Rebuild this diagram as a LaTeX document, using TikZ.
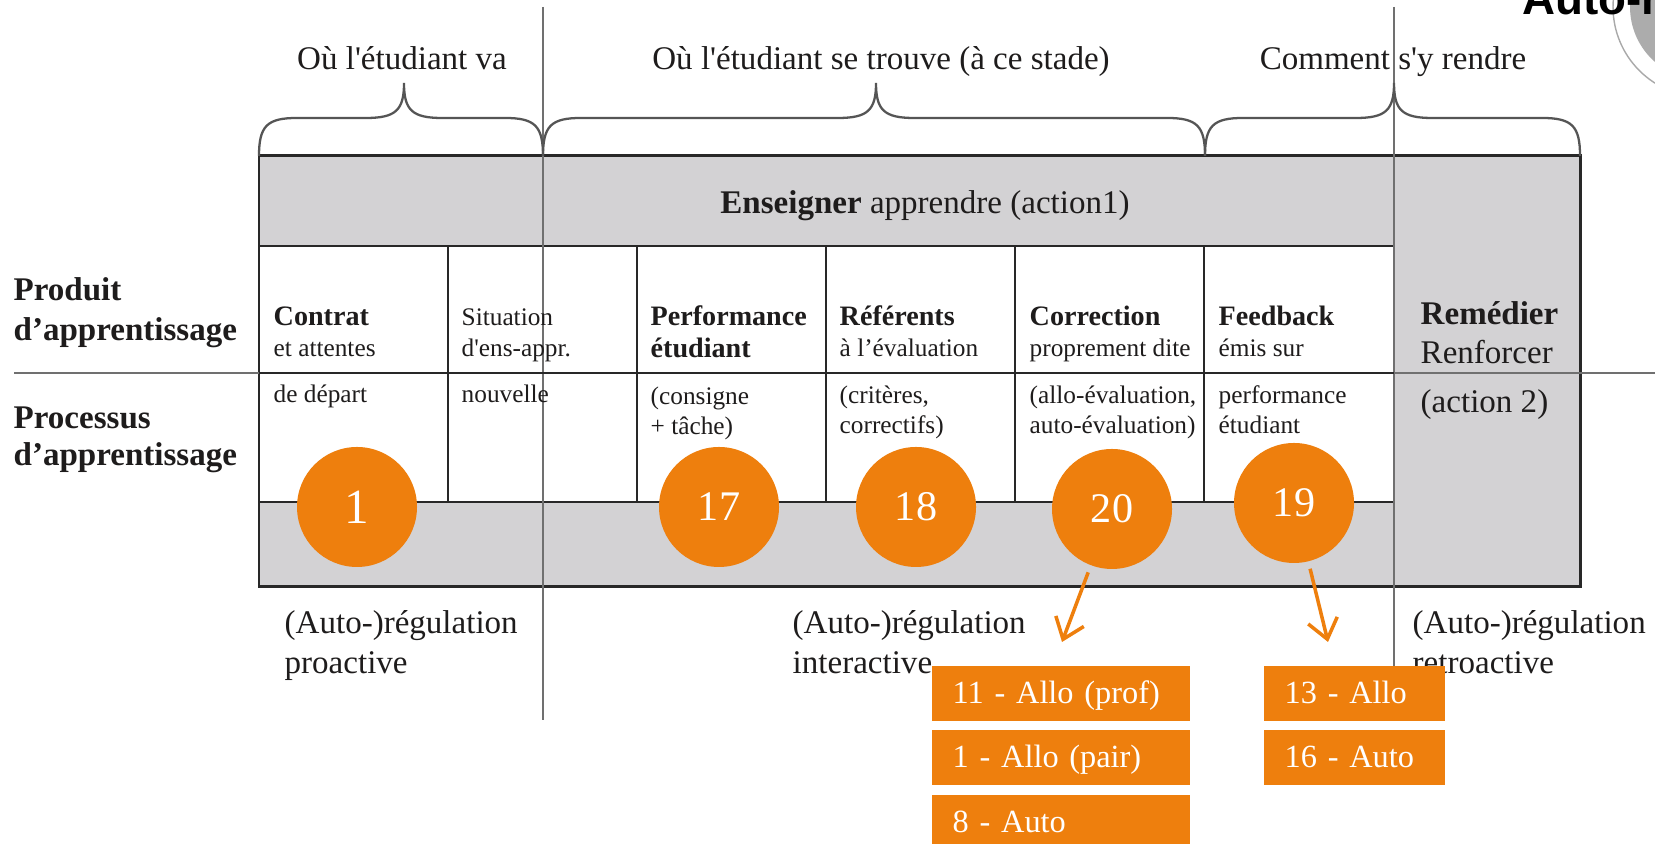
\documentclass[tikz,border=0pt]{standalone}
\usepackage{fontspec}
\setmainfont{Liberation Serif}
\newfontfamily\titlesans{Liberation Sans}
\usetikzlibrary{positioning,arrows.meta}

\definecolor{cellgray}{RGB}{211,210,212}
\definecolor{markorange}{RGB}{238,127,13}
\definecolor{guidegray}{RGB}{112,112,112}
\definecolor{bracegray}{RGB}{85,85,85}
\definecolor{rulegray}{RGB}{40,40,40}
\definecolor{ink}{RGB}{30,28,28}
\definecolor{ringgray}{RGB}{172,172,172}

\tikzset{
	big/.style={font=\fontsize{9.4}{11.2}\selectfont, text=ink, inner sep=0pt, align=left},
	head/.style={font=\fontsize{8}{9.6}\selectfont\bfseries, text=ink, inner sep=0pt, anchor=base west},
	small/.style={font=\fontsize{7.2}{8.6}\selectfont, text=ink, inner sep=0pt, anchor=base west},
	guide/.style={draw=guidegray, line width=0.6pt},
	brace/.style={draw=bracegray, line width=0.65pt},
	cellline/.style={draw=rulegray, line width=0.65pt},
	disc/.style={circle, fill=markorange, minimum size=1.2cm, inner sep=0pt, text=white, font=\fontsize{12}{14}\selectfont},
	obox/.style={fill=markorange, text=white, minimum height=0.55cm, inner xsep=0.21cm, inner ysep=0pt, text height=7pt, text depth=1.2pt, align=left, font=\fontsize{9.2}{11}\selectfont, anchor=north west},
	oarrow/.style={draw=markorange, line width=1pt, -{Straight Barb[length=5.5pt,width=8.5pt]}, shorten <=0.07cm},
}

\begin{document}
\begin{tikzpicture}
	\useasboundingbox (0,0) rectangle (16.55,8.44);
	\clip (0,0) rectangle (16.55,8.44);
	\fill[white] (0,0) rectangle (16.55,8.44);

	% corner of the next picture
	\fill[ringgray] (17.03,8.37) circle (0.73);
	\draw[guidegray!60, line width=0.4pt] (17.03,8.37) circle (0.90);
	\node[font=\titlesans\bfseries\fontsize{13}{15}\selectfont, text=black, inner sep=0pt, anchor=base west] (autoTitle) at (15.22,8.29) {Auto-r};

	% table
	\fill[cellgray] (2.59,2.57) rectangle (15.80,6.88);
	\filldraw[fill=white, cellline] (2.59,3.42) rectangle (13.94,5.98);
	\draw[cellline] (4.48,3.42) -- (4.48,5.98);
	\draw[cellline] (6.37,3.42) -- (6.37,5.98);
	\draw[cellline] (8.26,3.42) -- (8.26,5.98);
	\draw[cellline] (10.15,3.42) -- (10.15,5.98);
	\draw[cellline] (12.04,3.42) -- (12.04,5.98);
	\draw[draw=rulegray, line width=0.85pt] (2.59,2.57) rectangle (15.80,6.88);

	% guide lines
	\draw[guide] (0.14,4.71) -- (16.55,4.71);
	\draw[guide] (5.43,8.37) -- (5.43,1.24);
	\draw[guide] (13.94,8.37) -- (13.94,1.24);
	\draw[cellline] (2.59,4.71) -- (13.94,4.71);

	% braces
	\draw[brace] (2.59,6.88) .. controls (2.59,7.18) and (2.67,7.26) .. (2.97,7.26) -- (3.66,7.26) .. controls (3.96,7.26) and (4.04,7.34) .. (4.04,7.61) .. controls (4.04,7.34) and (4.12,7.26) .. (4.42,7.26) -- (5.05,7.26) .. controls (5.35,7.26) and (5.43,7.18) .. (5.43,6.88);
	\draw[brace] (5.43,6.88) .. controls (5.43,7.18) and (5.51,7.26) .. (5.81,7.26) -- (8.38,7.26) .. controls (8.68,7.26) and (8.76,7.34) .. (8.76,7.61) .. controls (8.76,7.34) and (8.84,7.26) .. (9.14,7.26) -- (11.67,7.26) .. controls (11.97,7.26) and (12.05,7.18) .. (12.05,6.88);
	\draw[brace] (12.05,6.88) .. controls (12.05,7.18) and (12.13,7.26) .. (12.43,7.26) -- (13.56,7.26) .. controls (13.86,7.26) and (13.94,7.34) .. (13.94,7.61) .. controls (13.94,7.34) and (14.02,7.26) .. (14.32,7.26) -- (15.42,7.26) .. controls (15.72,7.26) and (15.80,7.18) .. (15.80,6.88);

	\node[big, anchor=base] (goalLbl) at (4.02,7.74) {Où l\textquotesingle étudiant va};
	\node[big, anchor=base] (whereLbl) at (8.81,7.74) {Où l\textquotesingle étudiant se trouve (à ce stade)};
	\node[big, anchor=base] (howLbl) at (13.93,7.74) {Comment s\textquotesingle y rendre};

	\node[big, anchor=base] (teachLbl) at (9.25,6.30) {\textbf{Enseigner} apprendre (action1)};

	\node[big, font=\fontsize{9.4}{11.6}\selectfont\bfseries, anchor=base west] (prodLbl) at (0.13,5.03) {Produit\\d'apprentissage};
	\node[big, font=\fontsize{9.4}{10.8}\selectfont\bfseries, anchor=base west] (procLbl) at (0.13,3.78) {Processus\\d'apprentissage};

	% cells
	\node[head] (contratA) at (2.73,5.18) {Contrat};
	\node[small] (contratB) at (2.73,4.87) {et attentes};
	\node[small] (contratC) at (2.73,4.41) {de départ};
	\node[small] (situA) at (4.61,5.18) {Situation};
	\node[small] (situB) at (4.61,4.87) {d\textquotesingle ens-appr.};
	\node[small] (situC) at (4.61,4.41) {nouvelle};
	\node[head] (perfA) at (6.50,5.18) {Performance};
	\node[head] (perfB) at (6.50,4.86) {étudiant};
	\node[small] (perfC) at (6.50,4.39) {(consigne};
	\node[small] (perfD) at (6.50,4.09) {+ tâche)};
	\node[head] (refA) at (8.39,5.18) {Référents};
	\node[small] (refB) at (8.39,4.87) {à l'évaluation};
	\node[small] (refC) at (8.39,4.40) {(critères,};
	\node[small] (refD) at (8.39,4.10) {correctifs)};
	\node[head] (corrA) at (10.29,5.18) {Correction};
	\node[small] (corrB) at (10.29,4.87) {proprement dite};
	\node[small] (corrC) at (10.29,4.40) {(allo-évaluation,};
	\node[small] (corrD) at (10.29,4.10) {auto-évaluation)};
	\node[head] (fbA) at (12.18,5.18) {Feedback};
	\node[small] (fbB) at (12.18,4.87) {émis sur};
	\node[small] (fbC) at (12.18,4.40) {performance};
	\node[small] (fbD) at (12.18,4.10) {étudiant};

	\node[big, anchor=base west] (remA) at (14.20,4.80) {\textbf{Remédier}\\Renforcer};
	\node[big, anchor=base west] (remB) at (14.20,4.31) {(action 2)};

	\node[big, font=\fontsize{9.4}{11.4}\selectfont, anchor=base west] (proLbl) at (2.84,1.70) {(Auto-)régulation\\proactive};
	\node[big, font=\fontsize{9.4}{11.4}\selectfont, anchor=base west] (interLbl) at (7.92,1.70) {(Auto-)régulation\\interactive};
	\node[big, font=\fontsize{9.4}{11.4}\selectfont, anchor=base west] (retroLbl) at (14.12,1.70) {(Auto-)régulation\\retroactive};

	% markers
	\node[disc, font=\fontsize{14}{16}\selectfont] (c1) at (3.57,3.37) {1};
	\node[disc] (c17) at (7.19,3.37) {17};
	\node[disc] (c18) at (9.16,3.37) {18};
	\node[disc] (c20) at (11.12,3.35) {20};
	\node[disc] (c19) at (12.94,3.41) {19};

	\coordinate (t20) at (10.62,2.02);
	\coordinate (t19) at (13.28,2.02);
	\draw[oarrow] (c20) -- (t20);
	\draw[oarrow] (c19) -- (t19);

	\node[obox, text width=2.16cm] (b11) at (9.31,1.79) {11 - Allo (prof)};
	\node[obox, text width=2.16cm, below=0.08cm of b11] (b1) {1 - Allo (pair)};
	\node[obox, text width=2.16cm, below=0.08cm of b1] (b8) {8 - Auto};
	\node[obox, text width=1.39cm] (b13) at (12.63,1.79) {13 - Allo};
	\node[obox, text width=1.39cm, below=0.08cm of b13] (b16) {16 - Auto};
\end{tikzpicture}
\end{document}
